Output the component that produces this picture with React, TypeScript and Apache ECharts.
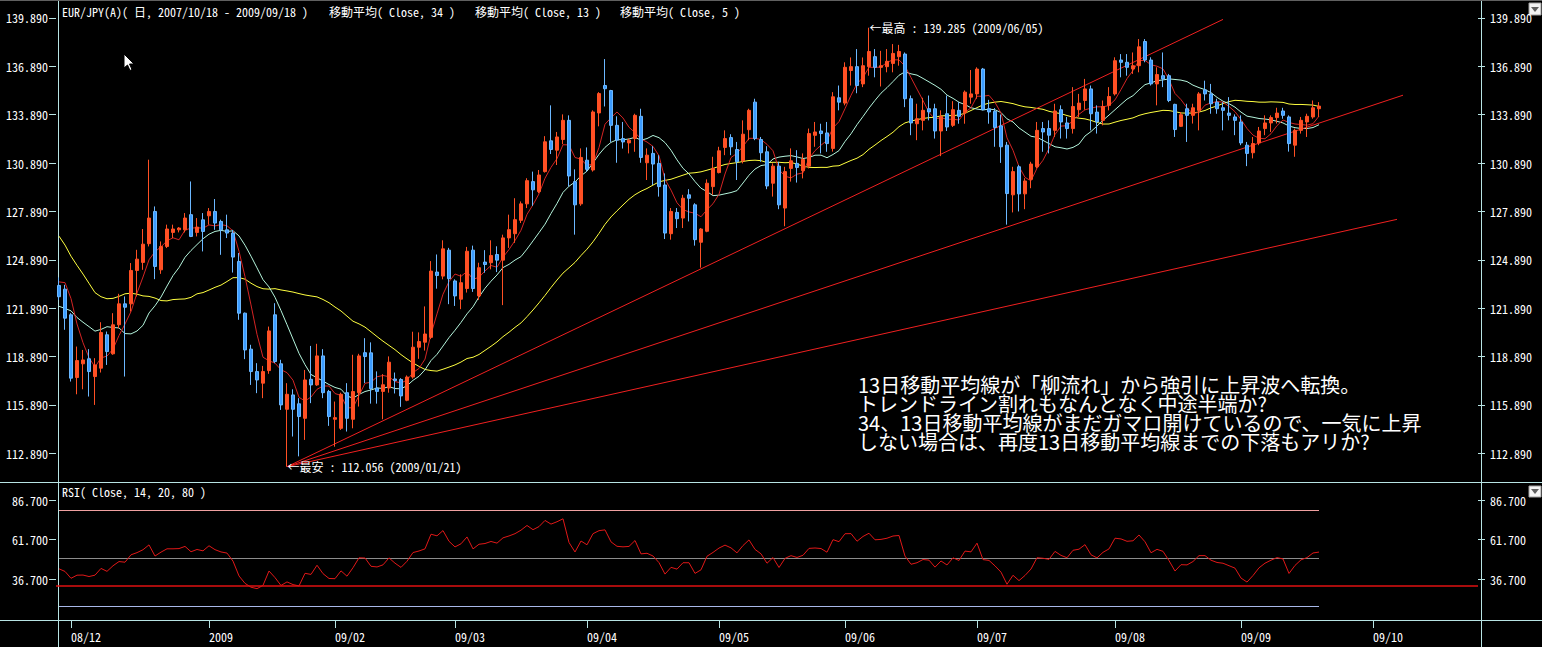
import React, { useEffect, useRef } from 'react';
import * as echarts from 'echarts';

// ---------- categories ----------
const FIRST_DAY = '2008-11-27';
const HOLIDAYS = ['2009-01-01'];
const CATEGORY_COUNT = 237;

// ---------- daily OHLC (EUR/JPY) ----------
const opens = [
  123.3, 123.07, 121.48, 117.59, 118.44, 118.75, 117.65, 118.17, 120.24, 119.06,
  120.86, 122.16, 122.16, 124.23, 124.73, 125.89, 127.89, 124.27, 125.72, 126.59,
  126.75, 126.75, 127.69, 126.59, 127.37, 127.62, 127.89, 127.27, 126.75, 126.55,
  124.79, 121.58, 119.35, 117.96, 117.24, 118.02, 121.48, 118.44, 115.62, 116.51,
  115.96, 115.06, 117.48, 117.13, 118.93, 116.72, 115.0, 114.44, 116.65, 115.0,
  116.65, 119.13, 119.12, 116.94, 116.73, 116.94, 117.5, 117.47, 116.18, 117.62,
  119.47, 119.78, 120.08, 124.13, 123.88, 125.49, 123.58, 122.45, 123.11, 125.49,
  122.65, 124.75, 124.71, 125.22, 124.87, 126.25, 126.51, 127.34, 128.36, 129.74,
  129.12, 130.36, 132.27, 131.69, 132.35, 133.54, 129.74, 128.36, 131.07, 130.46,
  134.0, 135.7, 135.39, 133.23, 132.41, 132.14, 132.41, 133.79, 130.91, 131.49,
  130.87, 129.53, 126.51, 127.83, 127.48, 128.92, 128.3, 125.98, 126.66, 129.43,
  130.3, 131.86, 132.47, 131.73, 131.03, 132.96, 134.67, 132.35, 131.59, 129.64,
  130.7, 128.1, 130.56, 130.87, 130.42, 130.7, 132.61, 132.88, 132.76, 131.8,
  134.94, 134.61, 136.63, 136.87, 135.8, 136.87, 137.49, 136.83, 136.87, 137.07,
  137.49, 137.65, 134.88, 133.33, 133.54, 134.26, 134.26, 132.88, 133.95, 133.23,
  134.16, 134.0, 134.98, 135.18, 136.72, 134.26, 134.1, 133.2, 132.0, 128.92,
  130.66, 128.98, 129.88, 130.66, 133.03, 133.03, 132.92, 134.2, 133.38, 133.03,
  134.2, 134.77, 135.49, 134.05, 133.54, 134.47, 135.18, 137.28, 137.14, 136.73,
  136.93, 138.43, 137.28, 135.8, 136.31, 136.31, 134.53, 133.17, 134.26, 133.85,
  134.16, 135.43, 135.18, 134.67, 134.32, 133.99, 133.75, 133.44, 132.0, 131.53,
  132.14, 133.03, 133.38, 133.71, 134.12, 133.75, 132.0, 132.92, 133.44, 133.75,
  134.26,
];
const highs = [
  123.8, 123.34, 121.58, 119.51, 119.3, 119.35, 118.79, 121.02, 120.44, 121.58,
  122.78, 122.62, 124.69, 125.51, 126.8, 131.1, 128.2, 126.03, 127.07, 127.07,
  126.92, 127.79, 129.75, 127.48, 127.79, 128.1, 128.66, 127.38, 127.69, 126.75,
  125.31, 121.62, 119.62, 118.48, 118.31, 120.75, 122.2, 118.69, 117.24, 116.86,
  116.31, 118.06, 119.55, 119.68, 119.35, 116.82, 116.1, 116.65, 117.24, 119.0,
  119.06, 120.03, 119.77, 117.97, 117.8, 118.9, 117.9, 117.55, 117.72, 120.43,
  120.39, 122.0, 124.81, 125.22, 126.1, 125.63, 123.68, 123.99, 125.69, 125.77,
  124.71, 125.49, 126.1, 125.73, 126.45, 127.69, 128.71, 128.51, 129.95, 130.36,
  130.46, 132.56, 134.47, 132.82, 133.91, 133.85, 130.5, 131.8, 131.86, 134.16,
  135.29, 137.34, 135.43, 133.79, 133.44, 132.41, 133.95, 134.26, 131.8, 131.94,
  131.38, 130.25, 128.1, 128.1, 128.92, 129.27, 128.4, 126.86, 129.88, 131.28,
  131.9, 132.92, 132.68, 132.2, 133.54, 134.26, 134.88, 132.51, 131.94, 130.87,
  130.97, 130.66, 131.8, 131.69, 131.49, 133.03, 133.44, 133.33, 133.44, 135.29,
  135.7, 137.14, 137.44, 137.96, 137.44, 139.285, 137.96, 137.85, 137.96, 138.27,
  138.22, 137.75, 135.08, 134.57, 134.94, 135.08, 134.57, 134.16, 135.08, 134.73,
  134.67, 135.39, 136.66, 136.83, 136.79, 134.81, 134.3, 133.9, 132.2, 130.66,
  130.77, 129.95, 130.97, 133.44, 133.44, 133.54, 134.57, 134.47, 133.75, 135.6,
  135.18, 136.11, 135.7, 134.47, 134.77, 135.6, 137.45, 137.65, 137.65, 137.75,
  138.58, 138.58, 137.45, 136.83, 137.75, 136.42, 134.57, 134.05, 134.57, 134.57,
  135.29, 136.0, 135.8, 134.88, 134.67, 134.98, 133.91, 133.85, 132.2, 132.51,
  133.13, 133.85, 133.85, 134.32, 134.32, 133.85, 133.03, 133.75, 133.95, 134.77,
  134.67,
];
const lows = [
  122.4, 120.55, 117.34, 116.55, 116.86, 116.41, 115.89, 117.9, 118.37, 119.0,
  120.65, 117.65, 121.68, 122.62, 124.27, 125.72, 123.69, 124.02, 125.62, 126.24,
  126.59, 126.59, 126.3, 126.34, 125.41, 127.07, 126.75, 125.2, 126.24, 124.1,
  121.17, 118.73, 117.13, 116.62, 116.31, 117.82, 118.48, 115.58, 112.056, 113.93,
  112.7, 113.72, 116.0, 117.07, 116.31, 114.59, 113.3, 114.34, 114.24, 114.44,
  115.79, 117.24, 115.97, 115.97, 115.0, 116.65, 116.6, 115.77, 116.12, 117.52,
  118.75, 119.26, 119.98, 123.1, 123.68, 122.14, 122.03, 121.83, 122.86, 122.9,
  122.41, 124.09, 124.3, 124.13, 122.08, 125.63, 125.94, 127.17, 128.1, 128.24,
  129.02, 130.3, 131.45, 130.77, 132.06, 129.43, 126.45, 128.24, 130.36, 130.36,
  133.17, 134.4, 132.2, 130.91, 131.79, 131.49, 131.59, 130.91, 129.84, 129.53,
  128.81, 126.18, 126.14, 126.86, 126.86, 127.27, 125.77, 124.4, 126.6, 128.92,
  130.25, 131.38, 131.38, 129.84, 130.87, 132.31, 132.31, 130.97, 129.27, 128.81,
  128.03, 126.97, 129.74, 129.68, 129.94, 130.56, 131.9, 131.49, 131.59, 131.6,
  134.16, 134.47, 135.7, 135.22, 135.6, 136.31, 136.21, 135.64, 136.52, 136.52,
  136.93, 134.36, 132.62, 132.31, 132.92, 133.54, 132.41, 131.32, 132.88, 133.13,
  133.33, 133.33, 134.57, 134.88, 134.16, 133.33, 131.9, 130.9, 127.07, 127.83,
  127.89, 128.03, 129.33, 130.56, 131.59, 131.49, 132.51, 132.41, 132.41, 132.72,
  133.75, 134.2, 132.92, 132.72, 133.23, 134.16, 135.08, 136.21, 136.31, 136.42,
  136.52, 137.14, 135.7, 134.47, 135.6, 134.67, 132.51, 133.13, 132.2, 133.34,
  132.92, 134.77, 133.95, 133.95, 132.92, 133.54, 132.62, 132.0, 130.7, 131.18,
  132.0, 132.62, 132.82, 133.34, 133.64, 131.6, 131.28, 132.72, 132.51, 133.64,
  133.75,
];
const closes = [
  122.6, 121.27, 117.55, 118.64, 118.68, 117.96, 118.37, 120.38, 119.2, 120.86,
  122.16, 121.95, 124.23, 124.93, 125.86, 127.48, 124.48, 125.72, 126.8, 126.8,
  126.86, 127.48, 126.34, 126.92, 126.65, 127.89, 127.17, 126.75, 126.55, 125.06,
  121.58, 119.3, 117.96, 117.44, 117.96, 120.48, 118.58, 115.89, 116.55, 115.62,
  115.17, 117.44, 117.13, 118.93, 116.65, 115.17, 115.1, 116.55, 115.06, 116.72,
  118.93, 118.89, 116.9, 116.73, 117.14, 118.54, 117.4, 116.45, 117.62, 119.47,
  119.82, 120.29, 124.19, 123.92, 125.57, 123.72, 122.65, 123.47, 125.42, 123.11,
  124.4, 124.6, 125.16, 124.87, 126.25, 126.76, 127.38, 128.36, 129.8, 129.23,
  130.15, 132.21, 131.73, 132.51, 133.54, 130.09, 128.3, 131.24, 130.5, 134.06,
  135.2, 135.5, 133.23, 132.31, 132.2, 132.31, 133.85, 131.24, 131.38, 130.83,
  129.43, 126.55, 127.89, 127.44, 128.71, 128.71, 126.14, 126.8, 129.64, 130.56,
  131.65, 132.41, 131.9, 130.97, 132.68, 134.16, 132.41, 131.53, 129.47, 130.7,
  128.3, 130.36, 131.03, 130.62, 131.11, 132.72, 132.82, 132.72, 132.1, 135.0,
  134.67, 136.83, 136.87, 135.7, 136.93, 137.81, 136.83, 136.93, 137.2, 137.69,
  137.81, 134.88, 133.38, 133.64, 134.16, 134.06, 132.88, 133.79, 133.13, 134.2,
  133.79, 135.29, 135.18, 136.72, 134.2, 134.06, 133.1, 131.9, 129.0, 130.36,
  128.98, 129.78, 130.83, 132.92, 132.82, 132.62, 134.12, 133.44, 133.03, 134.4,
  134.61, 135.49, 133.95, 133.44, 134.4, 135.02, 137.24, 137.14, 136.83, 136.93,
  138.1, 137.28, 135.8, 136.38, 136.11, 134.77, 132.97, 133.89, 133.85, 134.32,
  135.18, 135.18, 134.57, 134.26, 134.16, 133.85, 133.54, 132.14, 131.49, 132.1,
  132.88, 133.38, 133.71, 133.99, 133.85, 132.1, 132.92, 133.54, 133.79, 134.32,
  134.424,
];
// closes before the visible window (2008/10/13 - 2008/11/26), used for MA / RSI warm-up
const priorCloses = [
  140, 141, 138, 137, 137.5, 138, 129, 123.5, 120, 118,
  116.5, 123, 127, 129.5, 128.5, 128, 131, 127.5, 124, 126,
  127, 123, 119.5, 124, 122.5, 121.5, 122, 119, 117, 121.5,
  122.5, 126.5, 124.5,
];

// ---------- axes / indicators ----------
const priceTicks = [112.89, 115.89, 118.89, 121.89, 124.89, 127.89, 130.89, 133.89, 136.89, 139.89];
const priceMin = 111.11;
const priceMax = 140.88;
const rsiTicks = [36.7, 61.7, 86.7];
const rsiMin = 11.2;
const rsiMax = 97.4;
const rsiLevels = [80, 50, 20];
const rsiLevelColors = ['#f0a0a0', '#8c8c8c', '#a8b8e8'];
const rsiTrendValue = 33.05;
const maPeriods = [34, 13, 5];
const maColors = ['#ffff40', '#b4f4dc', '#d42424'];
const rsiPeriod = 14;

// trend lines: start (index, price) -> end (index, price)
const trendStartIdx = [38, 38, 38];
const trendStartVal = [112.06, 112.06, 112.06];
const trendEndIdx = [194, 224, 223];
const trendEndVal = [139.8, 135.1, 127.4];

const lastPrice = 134.424;
const highIdx = 135;
const highVal = 139.285;
const highText = '←最高 : 139.285 (2009/06/05)';
const lowIdx = 38;
const lowVal = 112.056;
const lowText = '←最安 : 112.056 (2009/01/21)';

const titleParts = ['EUR/JPY(A)( 日, 2007/10/18 - 2009/09/18 )', '移動平均( Close, 34 )', '移動平均( Close, 13 )', '移動平均( Close, 5 )'];
const titleX = [62, 329, 475, 620];
const rsiTitle = 'RSI( Close, 14, 20, 80 )';
const commentLines = [
  '13日移動平均線が「柳流れ」から強引に上昇波へ転換。',
  'トレンドライン割れもなんとなく中途半端か?',
  '34、13日移動平均線がまだガマロ開けているので、一気に上昇',
  'しない場合は、再度13日移動平均線までの下落もアリか?',
];

const UP = '#ff5024';
const DOWN = '#3c9cff';
const DOWN_WICK = '#6cb8ff';
const AXIS = '#b8e4e4';
const MONO = "'Noto Sans Mono CJK JP', 'DejaVu Sans Mono', monospace";
const JP = "'Noto Sans CJK JP', sans-serif";

function buildDates(): string[] {
  const out: string[] = [];
  const [y, m, d] = FIRST_DAY.split('-').map(Number);
  const cur = new Date(Date.UTC(y, m - 1, d));
  while (out.length < CATEGORY_COUNT) {
    const wd = cur.getUTCDay();
    const s = cur.toISOString().slice(0, 10);
    if (wd !== 0 && wd !== 6 && !HOLIDAYS.includes(s)) out.push(s);
    cur.setUTCDate(cur.getUTCDate() + 1);
  }
  return out;
}

function sma(all: number[], offset: number, n: number, count: number) {
  const out: number[] = [];
  for (let i = 0; i < count; i++) {
    let s = 0;
    for (let k = 0; k < n; k++) s += all[offset + i - k];
    out.push(+(s / n).toFixed(3));
  }
  return out;
}

// Wilder-smoothed RSI
function rsiWilder(all: number[], offset: number, n: number, count: number) {
  let g = 0;
  let l = 0;
  for (let j = 1; j <= n; j++) {
    const ch = all[j] - all[j - 1];
    if (ch > 0) g += ch;
    else l -= ch;
  }
  g /= n;
  l /= n;
  const res: number[] = new Array(all.length).fill(50);
  res[n] = (100 * g) / (g + l);
  for (let j = n + 1; j < all.length; j++) {
    const ch = all[j] - all[j - 1];
    g = (g * (n - 1) + (ch > 0 ? ch : 0)) / n;
    l = (l * (n - 1) + (ch < 0 ? -ch : 0)) / n;
    res[j] = (100 * g) / (g + l);
  }
  return res.slice(offset, offset + count).map((v) => +v.toFixed(2));
}

export default function App() {
  const ref = useRef<HTMLDivElement>(null);
  useEffect(() => {
    if (!ref.current) return;
    const chart = echarts.init(ref.current, undefined, { renderer: 'svg' });
    const dates = buildDates();
    const n = closes.length;
    const all = priorCloses.concat(closes);
    const off = priorCloses.length;
    const candle = closes.map((c, i) => [opens[i], c, lows[i], highs[i]]);
    const isMonthStart = (idx: number) => idx > 0 && dates[idx].slice(0, 7) !== dates[idx - 1].slice(0, 7);
    const fmtDate = (v: string) => (v.slice(5, 7) === '01' ? v.slice(0, 4) : v.slice(2, 4) + '/' + v.slice(5, 7));
    const rsiVals = rsiWilder(all, off, rsiPeriod, n);

    const maSeries = maPeriods.map((p, k) => ({
      type: 'line',
      xAxisIndex: 0,
      yAxisIndex: 0,
      data: sma(all, off, p, n),
      showSymbol: false,
      symbol: 'none',
      lineStyle: { color: maColors[k], width: 1 },
      z: 3,
    }));
    const trendSeries = trendEndIdx.map((e, k) => ({
      type: 'line',
      xAxisIndex: 0,
      yAxisIndex: 0,
      data: [
        [dates[trendStartIdx[k]], trendStartVal[k]],
        [dates[e], trendEndVal[k]],
      ],
      showSymbol: false,
      symbol: 'none',
      lineStyle: { color: '#f02020', width: 1 },
      z: 4,
    }));

    const priceAxis = (position: string, margin: number) => ({
      type: 'value',
      gridIndex: 0,
      position,
      min: priceMin,
      max: priceMax,
      axisLine: { show: false },
      axisTick: { show: true, length: 7, customValues: priceTicks, lineStyle: { color: AXIS } },
      axisLabel: {
        customValues: priceTicks,
        formatter: (v: number) => v.toFixed(3),
        color: '#ffffff',
        fontSize: 12,
        fontFamily: MONO,
        margin,
      },
      splitLine: { show: false },
    });
    const rsiAxis = (position: string, margin: number) => ({
      type: 'value',
      gridIndex: 1,
      position,
      min: rsiMin,
      max: rsiMax,
      axisLine: { show: false },
      axisTick: { show: true, length: 7, customValues: rsiTicks, lineStyle: { color: AXIS } },
      axisLabel: {
        customValues: rsiTicks,
        formatter: (v: number) => v.toFixed(3),
        color: '#ffffff',
        fontSize: 12,
        fontFamily: MONO,
        margin,
      },
      splitLine: { show: false },
    });

    const labelStyle = { color: '#ffffff', fontSize: 12, fontFamily: MONO };

    const option: any = {
      backgroundColor: '#000000',
      animation: false,
      grid: [
        { left: 56, top: 2, width: 1422, height: 480 },
        { left: 56, top: 483, width: 1422, height: 137 },
      ],
      xAxis: [
        {
          type: 'category',
          gridIndex: 0,
          data: dates,
          boundaryGap: true,
          axisLine: { show: false },
          axisTick: { show: false },
          axisLabel: { show: false },
          splitLine: { show: false },
        },
        {
          type: 'category',
          gridIndex: 1,
          data: dates,
          boundaryGap: true,
          axisLine: { show: false },
          axisTick: {
            show: true,
            alignWithLabel: true,
            interval: (idx: number) => isMonthStart(idx),
            length: 8,
            lineStyle: { color: AXIS },
          },
          axisLabel: {
            interval: (idx: number) => isMonthStart(idx),
            formatter: fmtDate,
            align: 'left',
            margin: 10,
            ...labelStyle,
          },
          splitLine: { show: false },
        },
      ],
      yAxis: [priceAxis('left', 8), priceAxis('right', 12), rsiAxis('left', 8), rsiAxis('right', 12)],
      series: [
        {
          type: 'candlestick',
          xAxisIndex: 0,
          yAxisIndex: 0,
          data: candle,
          barWidth: 4,
          itemStyle: { color: UP, color0: DOWN, borderColor: UP, borderColor0: DOWN_WICK, borderWidth: 1 },
          z: 5,
          markPoint: {
            symbol: 'circle',
            symbolSize: 1,
            itemStyle: { color: 'rgba(0,0,0,0)' },
            label: { show: true, position: 'right', distance: 0, ...labelStyle },
            data: [
              { coord: [dates[highIdx], highVal], label: { formatter: highText } },
              { coord: [dates[lowIdx], lowVal], label: { formatter: lowText } },
            ],
          },
          markLine: {
            symbol: 'none',
            silent: true,
            lineStyle: { opacity: 0 },
            label: {
              show: true,
              position: 'end',
              distance: 4,
              formatter: () => lastPrice.toFixed(3),
              backgroundColor: '#ff1010',
              color: '#80e4e4',
              fontSize: 12,
              fontFamily: MONO,
              lineHeight: 12,
              padding: [0, 11, 0, 8],
            },
            data: [{ yAxis: lastPrice }],
          },
        },
        ...maSeries,
        ...trendSeries,
        {
          type: 'line',
          xAxisIndex: 1,
          yAxisIndex: 2,
          data: rsiVals,
          showSymbol: false,
          symbol: 'none',
          lineStyle: { color: '#e01818', width: 1 },
          z: 5,
          markLine: {
            symbol: 'none',
            silent: true,
            label: { show: false },
            data: [
              ...rsiLevels.map((v, k) => [
                { coord: [dates[0], v], lineStyle: { color: rsiLevelColors[k], width: 1, type: 'solid' } },
                { coord: [dates[n - 1], v] },
              ]),
              { yAxis: rsiTrendValue, lineStyle: { color: '#e01010', width: 1.5, type: 'solid' } },
            ],
          },
        },
      ],
      graphic: [
        { type: 'line', shape: { x1: 0, y1: 0.5, x2: 1542, y2: 0.5 }, style: { stroke: '#606060', lineWidth: 1 } },
        { type: 'line', shape: { x1: 0, y1: 482.5, x2: 1542, y2: 482.5 }, style: { stroke: AXIS, lineWidth: 1 } },
        { type: 'line', shape: { x1: 0, y1: 620.5, x2: 1542, y2: 620.5 }, style: { stroke: AXIS, lineWidth: 1 } },
        { type: 'line', shape: { x1: 58.5, y1: 1, x2: 58.5, y2: 647 }, style: { stroke: AXIS, lineWidth: 1 } },
        { type: 'line', shape: { x1: 1481.5, y1: 1, x2: 1481.5, y2: 647 }, style: { stroke: AXIS, lineWidth: 1 } },
        ...titleParts.map((t, k) => ({
          type: 'text',
          x: titleX[k],
          y: 11,
          style: { text: t, fill: '#ffffff', fontSize: 12, fontFamily: MONO, verticalAlign: 'middle' },
        })),
        {
          type: 'text',
          x: 62,
          y: 491,
          style: { text: rsiTitle, fill: '#ffffff', fontSize: 12, fontFamily: MONO, verticalAlign: 'middle' },
        },
        {
          type: 'text',
          x: 858,
          y: 375,
          style: { text: commentLines.join('\n'), fill: '#ffffff', fontSize: 20, fontFamily: JP, lineHeight: 19, verticalAlign: 'top' },
        },
        { type: 'rect', shape: { x: 1529, y: 3, width: 12, height: 12 }, style: { fill: '#f4f4f4', stroke: '#a0a0a0' } },
        { type: 'polygon', shape: { points: [[1531, 7], [1539, 7], [1535, 12]] }, style: { fill: '#606060' } },
        { type: 'rect', shape: { x: 1529, y: 486, width: 12, height: 11 }, style: { fill: '#f4f4f4', stroke: '#a0a0a0' } },
        { type: 'polygon', shape: { points: [[1531, 489], [1539, 489], [1535, 494]] }, style: { fill: '#606060' } },
        {
          type: 'polygon',
          shape: { points: [[124, 54], [124, 68], [127.5, 65], [130, 70.5], [132, 69.5], [129.5, 64], [134, 64]] },
          style: { fill: '#ffffff', stroke: '#000000', lineWidth: 1 },
        },
      ],
    };
    chart.setOption(option);
    return () => chart.dispose();
  }, []);
  return <div ref={ref} style={{ position: 'fixed', left: 0, top: 0, width: 1542, height: 647 }} />;
}
